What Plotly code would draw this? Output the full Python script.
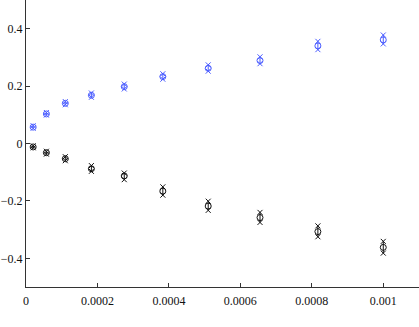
import plotly.graph_objects as go

x = [0.00002, 0.000057, 0.00011, 0.000183, 0.000275, 0.000383, 0.00051, 0.000655, 0.000817, 0.001]
blue_mid = [0.057, 0.103, 0.140, 0.168, 0.198, 0.233, 0.262, 0.289, 0.340, 0.361]
blue_hi = [0.062, 0.108, 0.146, 0.176, 0.207, 0.243, 0.274, 0.302, 0.356, 0.378]
blue_lo = [0.053, 0.099, 0.135, 0.161, 0.190, 0.224, 0.252, 0.278, 0.327, 0.347]
black_mid = [-0.012, -0.032, -0.053, -0.088, -0.113, -0.166, -0.218, -0.258, -0.307, -0.362]
black_hi = [-0.008, -0.027, -0.046, -0.077, -0.103, -0.151, -0.201, -0.240, -0.287, -0.341]
black_lo = [-0.015, -0.037, -0.060, -0.097, -0.126, -0.180, -0.233, -0.275, -0.325, -0.382]

x_ticks = [0, 0.0002, 0.0004, 0.0006, 0.0008, 0.001]
x_ticklabels = ["0", "0.0002", "0.0004", "0.0006", "0.0008", "0.001"]
y_ticks = [-0.4, -0.2, 0, 0.2, 0.4]
y_ticklabels = ["\u22120.4", "\u22120.2", "0", "0.2", "0.4"]

BLUE = "#4a5cff"
BLACK = "#111111"

fig = go.Figure()

for mid, hi, lo, col in [(blue_mid, blue_hi, blue_lo, BLUE), (black_mid, black_hi, black_lo, BLACK)]:
    fig.add_trace(go.Scatter(
        x=x, y=mid, mode="markers",
        marker=dict(symbol="circle-open", size=6, color=col, line=dict(width=1, color=col)),
        error_y=dict(type="data", symmetric=False,
                     array=[h - m for h, m in zip(hi, mid)],
                     arrayminus=[m - l for m, l in zip(mid, lo)],
                     width=0, thickness=1, color=col),
        showlegend=False, hoverinfo="skip"))
    fig.add_trace(go.Scatter(
        x=x + x, y=hi + lo, mode="markers",
        marker=dict(symbol="x-thin-open", size=5, color=col, line=dict(width=1, color=col)),
        showlegend=False, hoverinfo="skip"))

font = dict(family="Liberation Serif, Times New Roman, serif", size=12, color="#111111")

fig.update_layout(
    width=419, height=327,
    margin=dict(l=26, r=0, t=0, b=40, autoexpand=False),
    paper_bgcolor="white", plot_bgcolor="white",
    font=font,
    xaxis=dict(range=[0, 0.0011], tickvals=x_ticks, ticktext=x_ticklabels, automargin=False,
               showgrid=False, zeroline=False, showline=True, linecolor="#333333", linewidth=1,
               ticks="inside", ticklen=4, tickcolor="#333333", tickfont=font,
               ticklabelstandoff=3),
    yaxis=dict(range=[-0.5, 0.5], tickvals=y_ticks, ticktext=y_ticklabels, automargin=False,
               showgrid=False, zeroline=False, showline=True, linecolor="#333333", linewidth=1,
               ticks="inside", ticklen=4, tickcolor="#333333", tickfont=font),
)

fig.write_html("out.html", config={"displayModeBar": False, "staticPlot": True},
               post_script="document.body.style.margin='0';document.body.style.overflow='hidden';")
